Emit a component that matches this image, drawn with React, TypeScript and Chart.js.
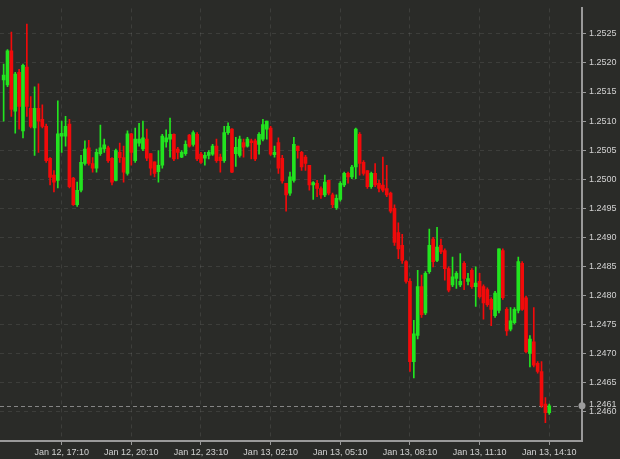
import React, { useEffect, useRef } from 'react';
import { Chart, registerables } from 'chart.js';

Chart.register(...registerables);

// Time of first candle, minutes after Jan 12 00:00 (Jan 12, 14:40); 10-minute candles
const startMinute = 880;
const candleMinutes = 10;

const opens = [
  1.25171, 1.25162, 1.25221, 1.25117, 1.25184, 1.25083, 1.25193, 1.25122, 1.25088, 1.25122,
  1.25103, 1.25091, 1.25036, 1.25007, 1.24998, 1.25074, 1.25074, 1.25095, 1.25002, 1.24956,
  1.24981, 1.25027, 1.25054, 1.25027, 1.25019, 1.25044, 1.25052, 1.25054, 1.25036, 1.24998,
  1.25046, 1.25037, 1.25010, 1.25078, 1.25032, 1.25062, 1.25052, 1.25069, 1.25044, 1.25030,
  1.25013, 1.25024, 1.25064, 1.25069, 1.25077, 1.25052, 1.25038, 1.25044, 1.25076, 1.25060,
  1.25077, 1.25043, 1.25036, 1.25041, 1.25043, 1.25057, 1.25038, 1.25032, 1.25080, 1.25086,
  1.25044, 1.25041, 1.25063, 1.25057, 1.25066, 1.25066, 1.25060, 1.25069, 1.25086, 1.25088,
  1.25042, 1.25063, 1.25036, 1.24993, 1.24976, 1.24998, 1.25057, 1.25046, 1.25038, 1.25024,
  1.24990, 1.24993, 1.24984, 1.24973, 1.24998, 1.24973, 1.24951, 1.24965, 1.24990, 1.25010,
  1.25004, 1.25021, 1.25077, 1.25029, 1.25015, 1.24987, 1.25010, 1.24993, 1.24990, 1.24984,
  1.24976, 1.24950, 1.24908, 1.24886, 1.24858, 1.24824, 1.24686, 1.24731, 1.24815, 1.24770,
  1.24841, 1.24897, 1.24860, 1.24886, 1.24877, 1.24846, 1.24818, 1.24829, 1.24818, 1.24855,
  1.24824, 1.24843, 1.24815, 1.24824, 1.24815, 1.24810, 1.24793, 1.24765, 1.24774, 1.24877,
  1.24776, 1.24742, 1.24753, 1.24774, 1.24855, 1.24796, 1.24700, 1.24720, 1.24683, 1.24669,
  1.24613, 1.24598,
];
const highs = [
  1.25198, 1.25223, 1.25253, 1.25184, 1.25189, 1.25198, 1.25267, 1.25142, 1.25159, 1.25164,
  1.25128, 1.25095, 1.25037, 1.25015, 1.25135, 1.25100, 1.25108, 1.25103, 1.25003, 1.24995,
  1.25041, 1.25066, 1.25067, 1.25037, 1.25052, 1.25093, 1.25069, 1.25057, 1.25037, 1.25052,
  1.25062, 1.25057, 1.25083, 1.25079, 1.25088, 1.25096, 1.25100, 1.25086, 1.25044, 1.25030,
  1.25049, 1.25077, 1.25085, 1.25105, 1.25078, 1.25055, 1.25049, 1.25066, 1.25077, 1.25083,
  1.25080, 1.25046, 1.25046, 1.25049, 1.25060, 1.25069, 1.25043, 1.25091, 1.25097, 1.25087,
  1.25072, 1.25074, 1.25069, 1.25072, 1.25069, 1.25069, 1.25080, 1.25103, 1.25100, 1.25091,
  1.25057, 1.25071, 1.25041, 1.24993, 1.25012, 1.25072, 1.25057, 1.25048, 1.25041, 1.25024,
  1.24996, 1.24998, 1.24987, 1.25007, 1.24998, 1.24976, 1.24973, 1.24996, 1.25012, 1.25012,
  1.25024, 1.25088, 1.25080, 1.25032, 1.25015, 1.25012, 1.25027, 1.24998, 1.25038, 1.25024,
  1.24978, 1.24956, 1.24925, 1.24905, 1.24860, 1.24829, 1.24757, 1.24843, 1.24835, 1.24841,
  1.24914, 1.24900, 1.24917, 1.24897, 1.24880, 1.24849, 1.24866, 1.24841, 1.24872, 1.24858,
  1.24838, 1.24846, 1.24849, 1.24838, 1.24818, 1.24813, 1.24796, 1.24807, 1.24880, 1.24880,
  1.24779, 1.24779, 1.24779, 1.24866, 1.24858, 1.24799, 1.24731, 1.24779, 1.24686, 1.24686,
  1.24624, 1.24613,
];
const lows = [
  1.25100, 1.25159, 1.25108, 1.25079, 1.25086, 1.25071, 1.25108, 1.25088, 1.25041, 1.25046,
  1.25088, 1.25029, 1.24990, 1.24978, 1.24985, 1.25046, 1.25057, 1.24985, 1.24955, 1.24953,
  1.24978, 1.25024, 1.25024, 1.25012, 1.25012, 1.25041, 1.25046, 1.25029, 1.24990, 1.24997,
  1.25029, 1.24995, 1.25007, 1.25024, 1.25029, 1.25057, 1.25049, 1.25032, 1.25007, 1.25004,
  1.24995, 1.25019, 1.25055, 1.25038, 1.25032, 1.25035, 1.25037, 1.25041, 1.25055, 1.25057,
  1.25032, 1.25027, 1.25024, 1.25035, 1.25041, 1.25029, 1.25012, 1.25029, 1.25077, 1.25011,
  1.25022, 1.25038, 1.25038, 1.25055, 1.25035, 1.25032, 1.25043, 1.25066, 1.25069, 1.25041,
  1.25038, 1.25010, 1.24993, 1.24945, 1.24972, 1.24995, 1.25036, 1.25015, 1.25015, 1.24981,
  1.24965, 1.24970, 1.24967, 1.24970, 1.24973, 1.24951, 1.24948, 1.24962, 1.24987, 1.24993,
  1.25001, 1.25001, 1.25007, 1.25007, 1.24984, 1.24984, 1.24987, 1.24978, 1.24978, 1.24970,
  1.24942, 1.24886, 1.24863, 1.24855, 1.24821, 1.24669, 1.24658, 1.24725, 1.24762, 1.24767,
  1.24838, 1.24849, 1.24858, 1.24872, 1.24826, 1.24806, 1.24815, 1.24812, 1.24815, 1.24810,
  1.24818, 1.24812, 1.24781, 1.24795, 1.24759, 1.24781, 1.24748, 1.24762, 1.24770, 1.24793,
  1.24731, 1.24739, 1.24751, 1.24770, 1.24774, 1.24701, 1.24677, 1.24677, 1.24666, 1.24607,
  1.24581, 1.24595,
];
const closes = [
  1.25179, 1.25221, 1.25120, 1.25181, 1.25125, 1.25196, 1.25125, 1.25091, 1.25122, 1.25100,
  1.25091, 1.25032, 1.25003, 1.24995, 1.25078, 1.25079, 1.25091, 1.24987, 1.24956, 1.24981,
  1.25029, 1.25052, 1.25027, 1.25019, 1.25046, 1.25054, 1.25059, 1.25032, 1.24995, 1.25049,
  1.25037, 1.25012, 1.25078, 1.25046, 1.25069, 1.25069, 1.25071, 1.25036, 1.25019, 1.25010,
  1.25024, 1.25074, 1.25071, 1.25077, 1.25035, 1.25046, 1.25046, 1.25060, 1.25057, 1.25080,
  1.25035, 1.25029, 1.25041, 1.25046, 1.25057, 1.25032, 1.25032, 1.25080, 1.25091, 1.25012,
  1.25055, 1.25069, 1.25055, 1.25069, 1.25063, 1.25035, 1.25077, 1.25094, 1.25100, 1.25043,
  1.25046, 1.25019, 1.24997, 1.24973, 1.25004, 1.25060, 1.25049, 1.25021, 1.25027, 1.24990,
  1.24994, 1.24984, 1.24973, 1.24995, 1.24976, 1.24956, 1.24967, 1.24993, 1.25010, 1.25004,
  1.25021, 1.25086, 1.25027, 1.25010, 1.24987, 1.25010, 1.24990, 1.24984, 1.24981, 1.24973,
  1.24945, 1.24891, 1.24880, 1.24860, 1.24824, 1.24686, 1.24734, 1.24815, 1.24767, 1.24838,
  1.24886, 1.24858, 1.24883, 1.24875, 1.24846, 1.24809, 1.24832, 1.24838, 1.24824, 1.24829,
  1.24829, 1.24815, 1.24821, 1.24798, 1.24787, 1.24784, 1.24776, 1.24804, 1.24880, 1.24796,
  1.24739, 1.24756, 1.24776, 1.24858, 1.24776, 1.24703, 1.24725, 1.24680, 1.24669, 1.24610,
  1.24598, 1.24610,
];

const yTickValues = [
  1.246, 1.2465, 1.247, 1.2475, 1.248, 1.2485, 1.249, 1.2495, 1.25, 1.2505, 1.251, 1.2515, 1.252, 1.2525,
];
const xTickValues = [1030, 1210, 1390, 1570, 1750, 1930, 2110, 2290];
const xTickLabels = [
  'Jan 12, 17:10', 'Jan 12, 20:10', 'Jan 12, 23:10', 'Jan 13, 02:10',
  'Jan 13, 05:10', 'Jan 13, 08:10', 'Jan 13, 11:10', 'Jan 13, 14:10',
];
const lastPrice = 1.2461;

const BG = '#2a2b28';
const UP = '#22e41f';
const DOWN = '#f20a0a';
const GRID = 'rgba(255,255,255,0.09)';
const AXIS = '#9a9a9a';
const TEXT = '#d2d2d2';
const FONT_FAMILY = "'Liberation Sans', Arial, sans-serif";

const pricePlugin = {
  id: 'priceLine',
  beforeDatasetsDraw(chart: any) {
    const { ctx, chartArea, scales } = chart;
    const y = Math.round(scales.y.getPixelForValue(lastPrice)) + 0.5;
    ctx.save();
    ctx.strokeStyle = '#858585';
    ctx.lineWidth = 1;
    ctx.setLineDash([4, 3]);
    ctx.beginPath();
    ctx.moveTo(chartArea.left, y);
    ctx.lineTo(chartArea.right, y);
    ctx.stroke();
    ctx.restore();
  },
  afterDraw(chart: any) {
    const { ctx, chartArea, scales } = chart;
    const y = scales.y.getPixelForValue(lastPrice);
    ctx.save();
    ctx.fillStyle = '#9c9c9c';
    ctx.beginPath();
    ctx.arc(chartArea.right, y, 3.5, 0, Math.PI * 2);
    ctx.fill();
    ctx.fillStyle = TEXT;
    ctx.font = `9px ${FONT_FAMILY}`;
    ctx.textAlign = 'left';
    ctx.textBaseline = 'middle';
    ctx.fillText(lastPrice.toFixed(4), chartArea.right + 7, y - 1);
    ctx.restore();
  },
};

export default function App() {
  const ref = useRef<HTMLCanvasElement>(null);

  useEffect(() => {
    const canvas = ref.current;
    if (!canvas) return;
    const times = opens.map((_, i) => startMinute + i * candleMinutes);
    const colors = closes.map((c, i) => (c >= opens[i] ? UP : DOWN));

    const chart = new Chart(canvas, {
      type: 'bar',
      data: {
        datasets: [
          {
            label: 'wick',
            data: times.map((t, i) => ({ x: t, y: [lows[i], highs[i]] })) as any,
            backgroundColor: colors,
            borderWidth: 0,
            barThickness: 1,
            grouped: false,
            borderSkipped: false,
            order: 2,
          } as any,
          {
            label: 'body',
            data: times.map((t, i) => ({ x: t, y: [opens[i], closes[i]] })) as any,
            backgroundColor: colors,
            borderWidth: 0,
            barThickness: 3,
            minBarLength: 1,
            grouped: false,
            borderSkipped: false,
            order: 1,
          } as any,
        ],
      },
      options: {
        animation: false,
        responsive: false,
        maintainAspectRatio: false,
        layout: { padding: 0 },
        plugins: {
          legend: { display: false },
          tooltip: { enabled: false },
        },
        scales: {
          x: {
            type: 'linear',
            min: 870.6,
            max: 2374.6,
            offset: false,
            grid: { color: GRID, offset: false, tickColor: AXIS, tickLength: 4, drawTicks: true },
            border: { display: true, color: AXIS, width: 2, dash: [4, 4] },
            ticks: {
              color: TEXT,
              font: { family: FONT_FAMILY, size: 9 },
              padding: 2,
              autoSkip: false,
              maxRotation: 0,
              callback: (_v: any, index: number) => xTickLabels[index],
            },
            afterBuildTicks: (scale: any) => {
              scale.ticks = xTickValues.map((v) => ({ value: v }));
            },
            afterFit: (scale: any) => {
              scale.height = 18;
            },
          },
          y: {
            type: 'linear',
            position: 'right',
            min: 1.245494,
            max: 1.252939,
            grid: { color: GRID, tickColor: AXIS, tickLength: 4, drawTicks: true },
            border: { display: true, color: AXIS, width: 2, dash: [4, 4] },
            ticks: {
              color: TEXT,
              font: { family: FONT_FAMILY, size: 9 },
              padding: 3,
              autoSkip: false,
              callback: (v: any) => Number(v).toFixed(4),
            },
            afterBuildTicks: (scale: any) => {
              scale.ticks = yTickValues.map((v) => ({ value: v }));
            },
            afterFit: (scale: any) => {
              scale.width = 38;
            },
          },
        },
      } as any,
      plugins: [pricePlugin],
    });

    return () => chart.destroy();
  }, []);

  return (
    <div style={{ width: 620, height: 459, background: BG, overflow: 'hidden' }}>
      <style>{`body{margin:0;background:${BG};}`}</style>
      <canvas ref={ref} width={620} height={459} style={{ display: 'block' }} />
    </div>
  );
}
